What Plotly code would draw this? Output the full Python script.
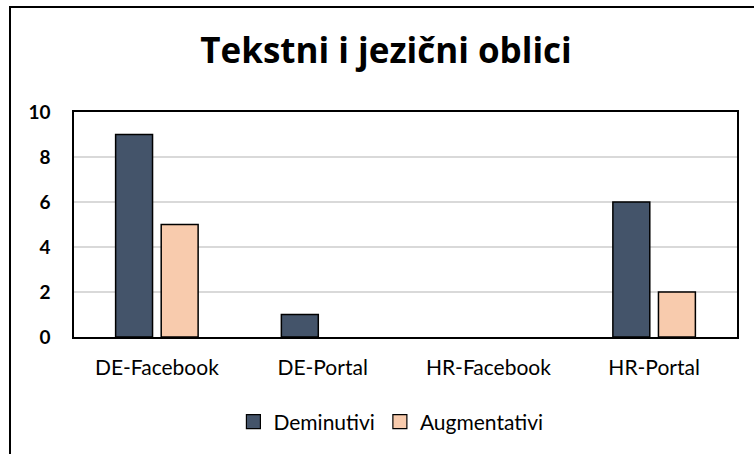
import plotly.graph_objects as go

categories = ["DE-Facebook", "DE-Portal", "HR-Facebook", "HR-Portal"]
deminutivi = [9, 1, 0, 6]
augmentativi = [5, 0, 0, 2]
y_ticks = [0, 2, 4, 6, 8, 10]

W, H = 754, 454
L, R, T, B = 74, 17, 112, 117
pw, ph = W - L - R, H - T - B

def px_x(x):
    return (x - L) / pw

def px_y(y):
    return (H - B - y) / ph

font_family = "Lato, 'Open Sans', sans-serif"
DARK, PEACH = "#44546A", "#F8CBAD"

fig = go.Figure()
fig.add_trace(go.Bar(name="Deminutivi", x=categories, y=deminutivi, showlegend=False,
                     marker=dict(color=DARK, line=dict(color="#000000",
                                 width=[1.5 if v else 0 for v in deminutivi]))))
fig.add_trace(go.Bar(name="Augmentativi", x=categories, y=augmentativi, showlegend=False,
                     marker=dict(color=PEACH, line=dict(color="#000000",
                                 width=[1.5 if v else 0 for v in augmentativi]))))
# legend entries with square swatches
for name, col in [("Deminutivi", DARK), ("Augmentativi", PEACH)]:
    fig.add_trace(go.Scatter(name=name, x=[None], y=[None], mode="markers",
                             marker=dict(symbol="square", size=14, color=col,
                                         line=dict(color="#000000", width=1.2))))

fig.update_layout(
    width=W, height=H,
    margin=dict(l=L, r=R, t=T, b=B, autoexpand=False),
    paper_bgcolor="white", plot_bgcolor="white",
    font=dict(family=font_family, color="#000000"),
    barmode="group", bargap=0.45, bargroupgap=0.19,
    title=dict(text="<b>Tekstni i jezični oblici</b>", x=0.512, xanchor="center",
               y=1 - 51 / H, yanchor="middle", yref="container",
               font=dict(size=35, family="'Open Sans', sans-serif", color="#000000")),
    legend=dict(orientation="h", x=0.478, xanchor="center", y=px_y(422), yanchor="middle",
                font=dict(size=21, family=font_family), itemwidth=30,
                traceorder="normal", bgcolor="rgba(0,0,0,0)"),
    showlegend=True,
)
fig.update_xaxes(showline=True, linecolor="#000000", linewidth=1.5, mirror=True,
                 ticks="", tickfont=dict(size=21, family=font_family),
                 ticklabelstandoff=11)
fig.update_yaxes(range=[0, 10], tickvals=y_ticks, showline=True, linecolor="#000000",
                 linewidth=1.5, mirror=True, showgrid=True, gridcolor="#D9D9D9",
                 gridwidth=1.5, zeroline=False, ticks="",
                 tickfont=dict(size=19, family=font_family, weight="bold"),
                 ticklabelstandoff=18)

fig.add_shape(type="rect", xref="paper", yref="paper",
              x0=px_x(10), x1=px_x(W + 20), y0=px_y(H + 20), y1=px_y(7),
              line=dict(color="#000000", width=2), fillcolor="rgba(0,0,0,0)", layer="below")

fig.write_html("out.html", config={"displayModeBar": False},
               post_script="document.body.style.margin='0';")
